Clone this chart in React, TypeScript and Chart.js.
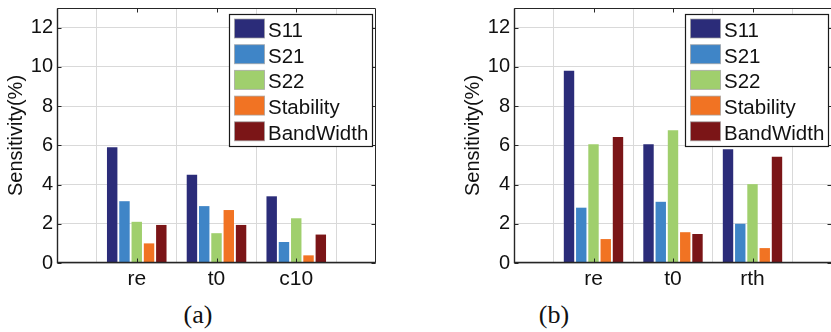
import React, { useEffect, useRef } from 'react';
import { Chart, registerables } from 'chart.js';

Chart.register(...registerables);
Chart.defaults.font.family = '"Liberation Sans", Arial, Helvetica, sans-serif';
Chart.defaults.color = '#111';

const seriesNames = ['S11', 'S21', 'S22', 'Stability', 'BandWidth'];
const seriesColors = ['#2b2c79', '#3f85c7', '#a0cf6d', '#f17323', '#7b1517'];

// Panel (a)
const categoriesA = ['re', 't0', 'c10'];
const s11A = [5.9, 4.5, 3.4];
const s21A = [3.15, 2.9, 1.07];
const s22A = [2.1, 1.52, 2.28];
const stabilityA = [1.0, 2.7, 0.39];
const bandwidthA = [1.94, 1.94, 1.45];

// Panel (b)
const categoriesB = ['re', 't0', 'rth'];
const s11B = [9.8, 6.05, 5.8];
const s21B = [2.82, 3.12, 2.0];
const s22B = [6.05, 6.77, 4.02];
const stabilityB = [1.22, 1.57, 0.76];
const bandwidthB = [6.42, 1.48, 5.42];

const yTicks = [0, 2, 4, 6, 8, 10, 12];
const yMin = 0;
const yMax = 13;
const yTitle = 'Sensitivity(%)';

const frameLegendPlugin = {
  id: 'frameLegend',
  afterDatasetsDraw(chart: any) {
    const { ctx, chartArea: a } = chart;
    const ys = chart.scales.y;
    const xs = chart.scales.x;
    const n = xs.getLabels().length;
    ctx.save();
    ctx.strokeStyle = '#262626';
    ctx.lineWidth = 1;
    const L = Math.round(a.left) + 0.5;
    const R = Math.round(a.right) - 0.5;
    const T = Math.round(a.top) + 0.5;
    const B = Math.round(a.bottom) - 0.5;
    ctx.beginPath();
    ctx.rect(L, T, R - L, B - T);
    yTicks.forEach((v) => {
      const y = Math.round(ys.getPixelForValue(v)) + 0.5;
      ctx.moveTo(L, y);
      ctx.lineTo(L + 4, y);
      ctx.moveTo(R, y);
      ctx.lineTo(R - 4, y);
    });
    for (let i = 1; i < n - 1; i++) {
      const x = Math.round(xs.getPixelForValue(i)) + 0.5;
      ctx.moveTo(x, T);
      ctx.lineTo(x, T + 4);
      ctx.moveTo(x, B);
      ctx.lineTo(x, B - 4);
    }
    ctx.stroke();
    ctx.beginPath();
    ctx.lineWidth = 1.4;
    ctx.moveTo(L, T);
    ctx.lineTo(L, B);
    ctx.lineTo(R, B);
    ctx.stroke();

    // legend
    const boxW = 143;
    const boxH = 132;
    const bx = Math.round(a.right - 4 - boxW) + 0.5;
    const by = Math.round(a.top + 6) + 0.5;
    ctx.fillStyle = '#ffffff';
    ctx.fillRect(bx, by, boxW, boxH);
    ctx.lineWidth = 1.2;
    ctx.strokeStyle = '#1a1a1a';
    ctx.strokeRect(bx, by, boxW, boxH);
    ctx.font = '20.5px "Liberation Sans", Arial, sans-serif';
    ctx.textBaseline = 'alphabetic';
    ctx.textAlign = 'left';
    chart.data.datasets.forEach((ds: any, i: number) => {
      const sx = bx + 5;
      const sy = by + 4.5 + i * 25.7;
      ctx.fillStyle = ds.backgroundColor;
      ctx.fillRect(sx, sy, 30, 19);
      ctx.lineWidth = 1;
      ctx.strokeStyle = 'rgba(160,160,160,0.7)';
      ctx.strokeRect(sx, sy, 30, 19);
      ctx.fillStyle = '#111';
      ctx.fillText(ds.label, sx + 33.5, sy + 17.8);
    });
    ctx.restore();
  },
};

type PanelProps = {
  categories: string[];
  series: number[][];
  left: number;
  width: number;
  padRight: number;
};

function Panel({ categories, series, left, width, padRight }: PanelProps) {
  const ref = useRef<HTMLCanvasElement | null>(null);
  useEffect(() => {
    if (!ref.current) return;
    const labels = ['', ...categories, ''];
    const chart = new Chart(ref.current, {
      type: 'bar',
      data: {
        labels,
        datasets: series.map((vals, i) => ({
          label: seriesNames[i],
          data: [null, ...vals, null],
          backgroundColor: seriesColors[i],
          borderWidth: 0,
          categoryPercentage: 0.77,
          barPercentage: 0.85,
        })),
      },
      options: {
        animation: false,
        responsive: false,
        devicePixelRatio: 1,
        layout: { padding: { top: 8, right: padRight, left: 0, bottom: 0 } },
        plugins: { legend: { display: false }, tooltip: { enabled: false } },
        scales: {
          x: {
            type: 'category',
            offset: false,
            grid: { color: '#d9d9d9', drawTicks: false, lineWidth: 1 },
            border: { display: false },
            ticks: { font: { size: 21 }, padding: 4, autoSkip: false, maxRotation: 0, color: '#111' },
            afterFit: (s: any) => {
              s.height = 37;
              s.paddingLeft = 0;
              s.paddingRight = 0;
            },
          },
          y: {
            min: yMin,
            max: yMax,
            grid: { color: '#d9d9d9', drawTicks: false, lineWidth: 1 },
            border: { display: false },
            ticks: { font: { size: 20 }, padding: 4, color: '#111' },
            title: {
              display: true,
              text: yTitle,
              font: { size: 20 },
              padding: { top: 4, bottom: 0 },
              color: '#111',
            },
            afterBuildTicks: (s: any) => {
              s.ticks = yTicks.map((v) => ({ value: v }));
            },
            afterFit: (s: any) => {
              s.width = 57;
              s.paddingTop = 0;
              s.paddingBottom = 0;
            },
          },
        },
      },
      plugins: [frameLegendPlugin],
    } as any);
    return () => chart.destroy();
  }, []);
  return (
    <canvas
      ref={ref}
      width={width}
      height={300}
      style={{ position: 'absolute', left, top: 0, width, height: 300 }}
    />
  );
}

function Caption({ text, center }: { text: string; center: number }) {
  return (
    <div
      style={{
        position: 'absolute',
        left: center - 50,
        top: 301.5,
        width: 100,
        textAlign: 'center',
        font: '26px "Liberation Serif", "Times New Roman", serif',
        lineHeight: '26px',
        color: '#111',
      }}
    >
      {text}
    </div>
  );
}

export default function App() {
  return (
    <div
      style={{
        position: 'absolute',
        left: 0,
        top: 0,
        width: 831,
        height: 332,
        overflow: 'hidden',
        background: '#fff',
      }}
    >
      <Panel
        categories={categoriesA}
        series={[s11A, s21A, s22A, stabilityA, bandwidthA]}
        left={0}
        width={420}
        padRight={44}
      />
      <Panel
        categories={categoriesB}
        series={[s11B, s21B, s22B, stabilityB, bandwidthB]}
        left={457}
        width={380}
        padRight={5}
      />
      <Caption text="(a)" center={198} />
      <Caption text="(b)" center={554} />
    </div>
  );
}
